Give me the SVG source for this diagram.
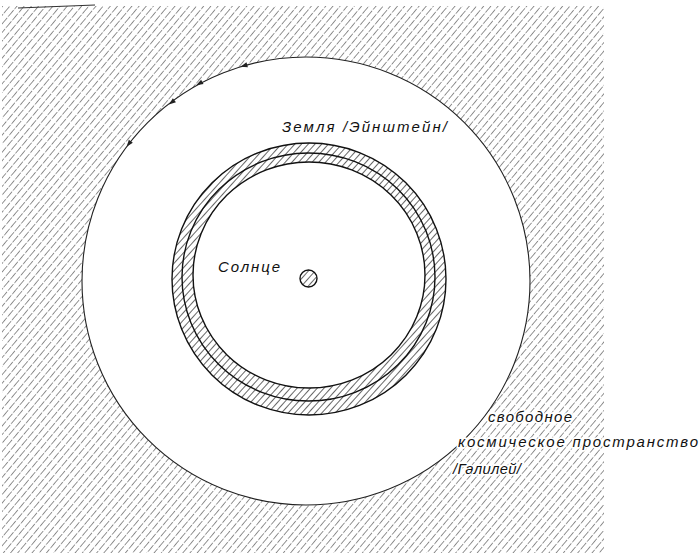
<svg xmlns="http://www.w3.org/2000/svg" width="699" height="553" viewBox="0 0 699 553">
<style>
.lbl{font-family:"Liberation Sans",Arial,sans-serif;font-style:italic;font-size:15px;fill:#111;}
.halo{stroke:#fff;stroke-width:3.5px;paint-order:stroke;stroke-linejoin:round;}
.edge{fill:none;stroke:#111;stroke-width:1.4;}
.ah{fill:#222;}
</style>
<defs>
<pattern id="hatchBg" patternUnits="userSpaceOnUse" width="5.5" height="10" patternTransform="rotate(40)">
<line x1="0" y1="0" x2="0" y2="10" stroke="#3a3a3a" stroke-width="1.1" stroke-dasharray="7.5 1.5"/>
</pattern>
<pattern id="hatchRing" patternUnits="userSpaceOnUse" width="5" height="5" patternTransform="rotate(42)">
<line x1="0" y1="0" x2="0" y2="5" stroke="#000" stroke-width="1.2"/>
</pattern>
<mask id="ringMask">
<rect x="0" y="0" width="699" height="553" fill="#000"/>
<ellipse cx="309" cy="279" rx="137" ry="136" fill="#fff"/>
<ellipse cx="309" cy="275" rx="116" ry="113" fill="#000"/>
</mask>
<path id="ah" d="M0 0 L-7 -2.5 L-7 2.5 Z"/>
</defs>
<rect width="699" height="553" fill="#fff"/>
<g id="space">
<rect x="2" y="6" width="602" height="547" fill="url(#hatchBg)"/>
<path d="M18 8 L95 5" stroke="#333" stroke-width="1.2"/>
</g>
<g id="einstein-region">
<circle cx="306" cy="281" r="224" fill="#fff" stroke="#222" stroke-width="1.1"/>
</g>
<g id="earth-orbit">
<rect x="160" y="135" width="300" height="300" fill="url(#hatchRing)" mask="url(#ringMask)"/>
<ellipse class="edge" cx="309" cy="279" rx="137" ry="136"/>
<ellipse class="edge" cx="308.5" cy="277" rx="126.5" ry="124" stroke-width="1.2"/>
<ellipse class="edge" cx="309" cy="275" rx="116" ry="113"/>
</g>
<g id="sun">
<circle cx="308.5" cy="278.5" r="8.5" fill="url(#hatchRing)" stroke="#111" stroke-width="1.4"/>
</g>
<g id="connectors">
<use href="#ah" class="ah" transform="translate(126.6,146.8) rotate(-233)"/>
<use href="#ah" class="ah" transform="translate(168.9,104.5) rotate(-218)"/>
<use href="#ah" class="ah" transform="translate(196.2,85.3) rotate(-209)"/>
<use href="#ah" class="ah" transform="translate(240.5,66.8) rotate(-197)"/>
</g>
<g id="labels">
<text class="lbl halo" x="282" y="132" font-size="16" textLength="165">Земля /Эйнштейн/</text>
<text class="lbl" x="218" y="272" textLength="62">Солнце</text>
<text class="lbl halo" x="488" y="422" textLength="84">свободное</text>
<text class="lbl halo" x="458" y="447" textLength="240">космическое пространство</text>
<text class="lbl halo" x="453" y="474" textLength="68">/Галилей/</text>
</g>
</svg>
